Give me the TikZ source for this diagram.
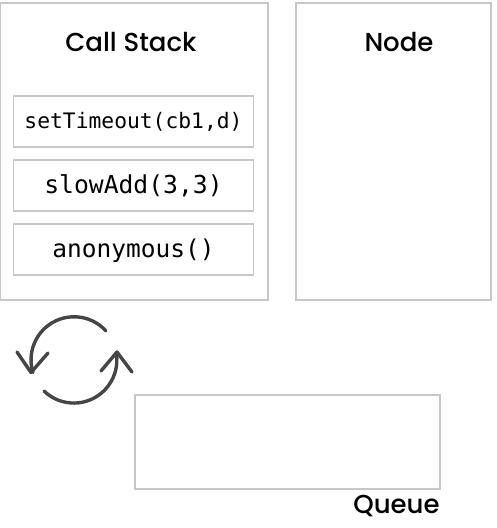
\documentclass[tikz,border=0pt]{standalone}
\usepackage{fontspec}
\setmainfont{Poppins Medium}
\setmonofont{DejaVu Sans Mono}

\tikzset{
    panel/.style={draw=black!22, line width=1.2pt},
    stackbox/.style={draw=black!22, line width=1.2pt, minimum width=240pt, minimum height=51pt, inner sep=0pt, font=\ttfamily},
    heading/.style={inner sep=0pt, font=\fontsize{26}{30}\selectfont},
    loopline/.style={draw=black!73, line width=3.4pt, line cap=round, line join=round}
}

\begin{document}
\begin{tikzpicture}[x=1pt, y=-1pt]
    \useasboundingbox (0,0) rectangle (496,528);

    \draw[panel] (0.5,3) rectangle (268,300);
    \node[heading] (stacktitle) at (131,42) {Call Stack};

    \draw[panel] (296,3) rectangle (491,300);
    \node[heading] (nodetitle) at (399,42) {Node};

    \node[stackbox] (timeoutbox) at (133.5,121.5) {\fontsize{21.3}{25}\selectfont setTimeout(cb1,d)};
    \node[stackbox] (addbox) at (133.5,185.5) {\fontsize{24.7}{28}\selectfont slowAdd(3,3)};
    \node[stackbox] (anonbox) at (133.5,249.5) {\fontsize{24.5}{28}\selectfont\raisebox{-7.5pt}[0pt][0pt]{anonymous()}};

    % the two arrows going round
    \draw[loopline] (106,331) arc[start angle=-42, end angle=-197, radius=43];
    \draw[loopline] (17,352) -- (31,372.5) -- (48,353);
    \draw[loopline] (44,391) arc[start angle=134, end angle=-10, radius=43];
    \draw[loopline] (101,371) -- (117,352) -- (132,372);

    \draw[panel] (135,395) rectangle (440,489);
    \node[heading] (queuetitle) at (396.5,506) {Queue};
\end{tikzpicture}
\end{document}
